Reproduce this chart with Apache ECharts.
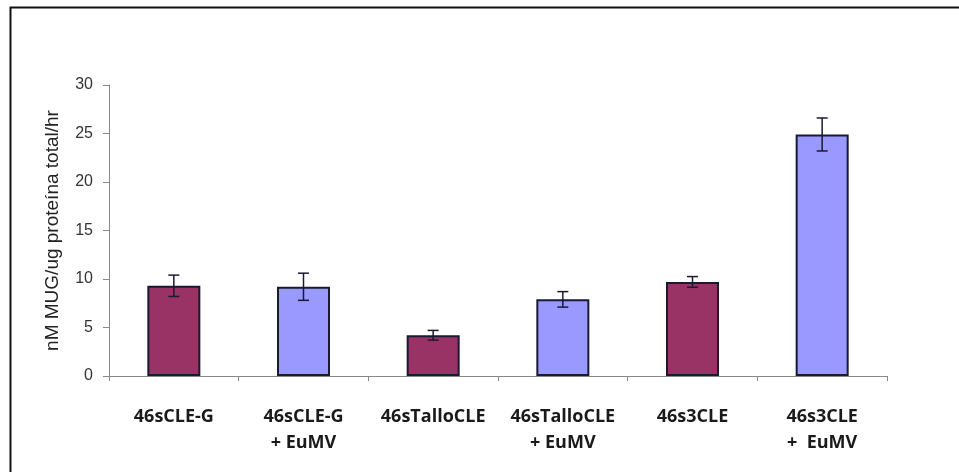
<!DOCTYPE html>
<html>
<head>
<meta charset="utf-8">
<style>
  html, body { margin: 0; padding: 0; background: #fff; }
  #chart { width: 959px; height: 472px; }
</style>
<script src="https://cdn.jsdelivr.net/npm/echarts@6/dist/echarts.min.js"></script>
</head>
<body>
<div id="chart"></div>
<script>
const categories = [
  "46sCLE-G",
  "46sCLE-G\n+ EuMV",
  "46sTalloCLE",
  "46sTalloCLE\n+ EuMV",
  "46s3CLE",
  "46s3CLE\n+  EuMV"
];
const values = [9.3, 9.2, 4.2, 7.9, 9.7, 24.9];
const errors = [1.1, 1.4, 0.5, 0.8, 0.55, 1.7];
const barColors = ["#993366", "#9999ff", "#993366", "#9999ff", "#993366", "#9999ff"];
const yTicks = { min: 0, max: 30, interval: 5 };

var chart = echarts.init(document.getElementById("chart"), null, { renderer: "canvas" });

var errorData = values.map((v, i) => [i, v - errors[i], v + errors[i]]);

var option = {
  animation: false,
  graphic: [
    {
      type: "rect",
      left: 8,
      top: 5,
      shape: { width: 1000, height: 1000 },
      style: { fill: "none", stroke: "#111", lineWidth: 2 },
      silent: true
    }
  ],
  grid: { left: 109, right: 72, top: 85, bottom: 96 },
  xAxis: {
    type: "category",
    data: categories,
    axisLine: { lineStyle: { color: "#888", width: 1 } },
    axisTick: { show: true, length: 5, lineStyle: { color: "#888" } },
    axisLabel: {
      color: "#1a1a1a",
      fontFamily: "Open Sans",
      fontWeight: "bold",
      fontSize: 18,
      lineHeight: 26,
      margin: 28,
      interval: 0
    }
  },
  yAxis: {
    type: "value",
    min: yTicks.min,
    max: yTicks.max,
    interval: yTicks.interval,
    name: "nM MUG/ug proteína total/hr",
    nameLocation: "middle",
    nameGap: 47,
    nameTextStyle: { color: "#222", fontFamily: "Liberation Sans", fontSize: 19 },
    axisLine: { show: true, lineStyle: { color: "#888" } },
    axisTick: { show: true, length: 6, lineStyle: { color: "#888" } },
    axisLabel: { color: "#333", fontFamily: "Liberation Sans", fontSize: 16, margin: 16 },
    splitLine: { show: false }
  },
  series: [
    {
      type: "bar",
      barWidth: 53,
      data: values.map((v, i) => ({
        value: v,
        itemStyle: { color: barColors[i], borderColor: "#1a1a33", borderWidth: 2 }
      }))
    },
    {
      type: "custom",
      data: errorData,
      z: 10,
      renderItem: function (params, api) {
        var x = api.value(0);
        var lo = api.coord([x, api.value(1)]);
        var hi = api.coord([x, api.value(2)]);
        var half = 5.5;
        var st = { stroke: "#1a1a33", lineWidth: 1.5 };
        return {
          type: "group",
          children: [
            { type: "line", shape: { x1: hi[0], y1: hi[1], x2: lo[0], y2: lo[1] }, style: st },
            { type: "line", shape: { x1: hi[0] - half, y1: hi[1], x2: hi[0] + half, y2: hi[1] }, style: st },
            { type: "line", shape: { x1: lo[0] - half, y1: lo[1], x2: lo[0] + half, y2: lo[1] }, style: st }
          ]
        };
      }
    }
  ]
};

chart.setOption(option);
window.addEventListener("resize", chart.resize);
</script>
</body>
</html>
